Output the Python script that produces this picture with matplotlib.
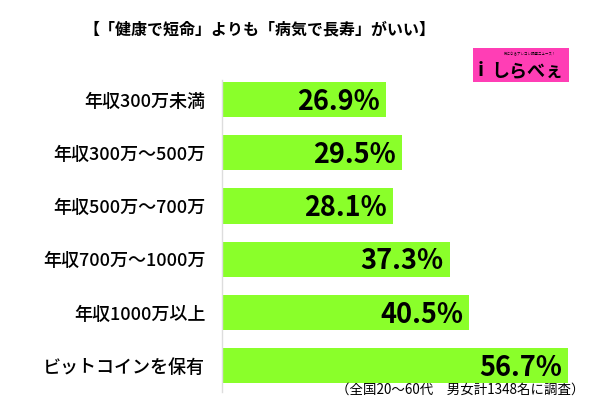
import matplotlib
matplotlib.use("Agg")
import matplotlib.pyplot as plt
from matplotlib.patches import Rectangle

plt.rcParams['font.family'] = ['Noto Sans CJK JP', 'DejaVu Sans']

categories = ["年収300万未満", "年収300万～500万", "年収500万～700万",
              "年収700万～1000万", "年収1000万以上", "ビットコインを保有"]
values = [26.9, 29.5, 28.1, 37.3, 40.5, 56.7]
title = "【「健康で短命」よりも「病気で長寿」がいい】"
note = "（全国20～60代　男女計1348名に調査）"

W, H = 600, 408
fig = plt.figure(figsize=(W/100, H/100), dpi=100)
ax = fig.add_axes([222/W, 1-392/H, (588-222)/W, (392-80)/H])

ypos = list(range(len(categories)))
ax.barh(ypos, values, height=0.66, color="#8aff2a", zorder=2)
ax.set_xlim(0, 60)
ax.set_ylim(5.49, -0.366)

for y, v in zip(ypos, values):
    ax.text(v - 1.0, y + 0.04, f"{v}%", ha="right", va="center",
            fontsize=19.5, fontweight="bold", color="black", zorder=3)

ax.set_yticks(ypos)
ax.set_yticklabels(categories, fontsize=13, fontweight="medium")
ax.tick_params(axis="y", length=0, pad=12)
ax.set_xticks([])
for s in ["top", "right", "bottom"]:
    ax.spines[s].set_visible(False)
ax.spines["left"].set_color("#dddddd")
ax.spines["left"].set_linewidth(1)

fig.text(259/W, 1-29/H, title, ha="center", va="center",
         fontsize=11.5, fontweight="bold")
fig.text(585/W, 1-390/H, note, ha="right", va="center", fontsize=9.7)

# logo
fig.patches.append(Rectangle((473/W, 1-82/H), (569-473)/W, (82-48)/H,
                             transform=fig.transFigure, facecolor="#ff3eb5",
                             edgecolor="none"))
fig.text(527/W, 1-71/H, "しらべぇ", ha="center", va="center",
         fontsize=13, fontweight="bold", color="black")
fig.text(481/W, 1-70/H, "i", ha="center", va="center",
         fontsize=14, fontweight="bold", color="black")
fig.text(530/W, 1-54/H, "気になるアレコレ調査ニュース！", ha="center",
         va="center", fontsize=2.5, color="black")

fig.savefig("out.png", dpi=100)
